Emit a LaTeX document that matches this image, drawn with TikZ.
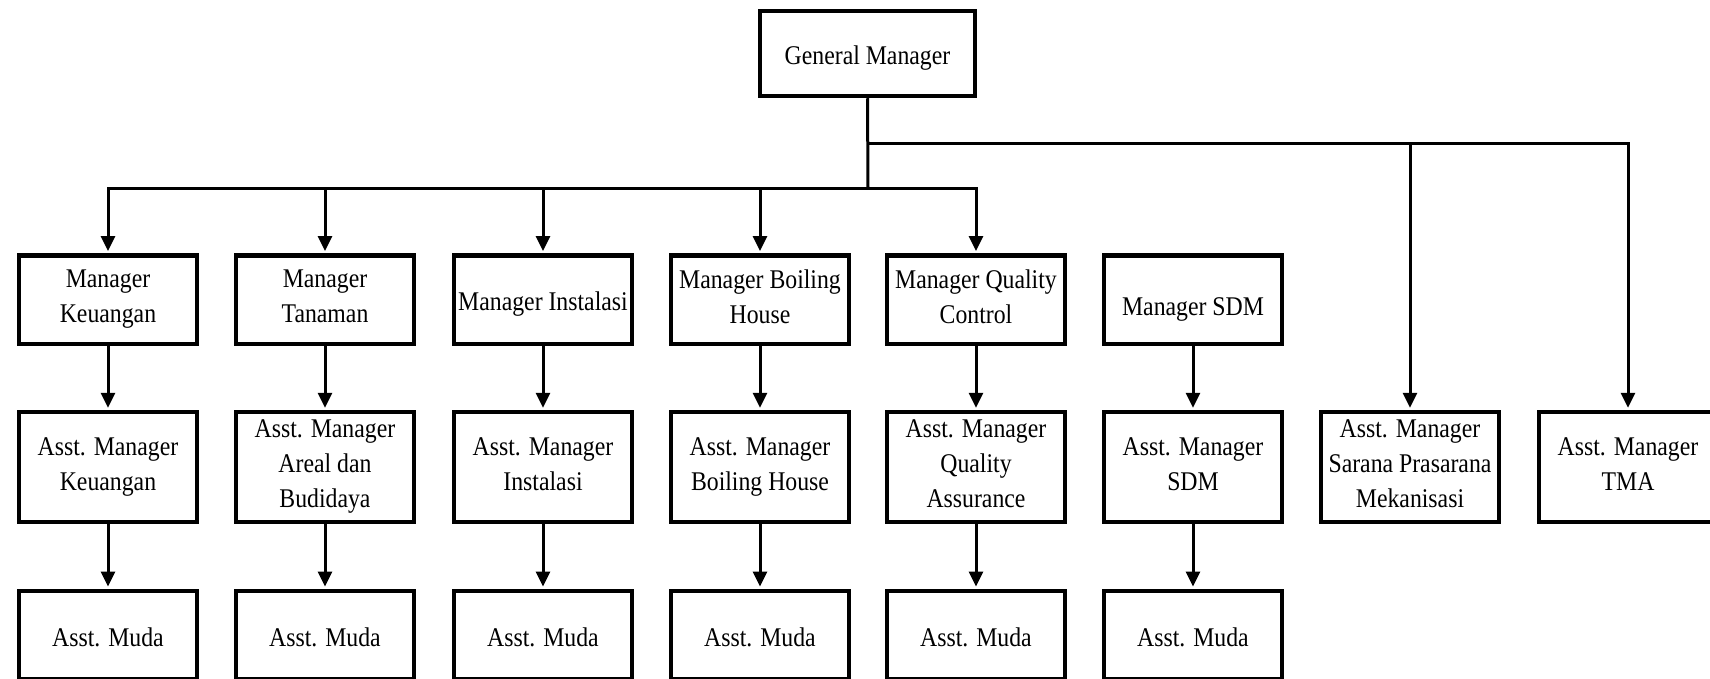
\documentclass[tikz,border=0pt]{standalone}
\usepackage{fontspec}
\setmainfont{Liberation Serif}[FakeStretch=0.88]
\usetikzlibrary{arrows.meta}
\newcommand\boxstrut{\rule[-6pt]{0pt}{34pt}}
\begin{document}
\begin{tikzpicture}[x=1pt,y=-1pt,
  box/.style={draw, line width=4.5pt, minimum width=178pt, inner sep=0pt, align=center,
    font=\fontsize{27}{35}\selectfont, execute at begin node=\boxstrut, execute at end node=\boxstrut},
  rowa/.style={box, minimum height=88.5pt},
  rowb/.style={box, minimum height=110pt},
  link/.style={line width=3pt},
  arr/.style={link, -{Triangle[width=14pt,length=15pt]}, shorten >=2pt}]
\useasboundingbox (0,0) rectangle (1710,679);
\clip (0,0) rectangle (1710,679);
\node[box, minimum width=215pt, minimum height=85pt] (gm) at (867.5,53.5) {General Manager};
% row 1
\node[rowa] (m1) at (108,299.5) {Manager\\Keuangan};
\node[rowa] (m2) at (325,299.5) {Manager\\Tanaman};
\node[rowa] (m3) at (543,299.5) {Manager Instalasi};
\node[rowa] (m4) at (760,299.5) {Manager Boiling\\House};
\node[rowa] (m5) at (976,299.5) {Manager Quality\\Control};
\node[rowa] (m6) at (1193,299.5) {\raisebox{-5pt}[0pt][0pt]{Manager SDM}};
% row 2
\node[rowb] (a1) at (108,467) {Asst. Manager\\Keuangan};
\node[rowb] (a2) at (325,467) {Asst. Manager\\Areal dan\\Budidaya};
\node[rowb] (a3) at (543,467) {Asst. Manager\\Instalasi};
\node[rowb] (a4) at (760,467) {Asst. Manager\\Boiling House};
\node[rowb] (a5) at (976,467) {Asst. Manager\\Quality\\Assurance};
\node[rowb] (a6) at (1193,467) {Asst. Manager\\SDM};
\node[rowb] (a7) at (1410,467) {Asst. Manager\\Sarana Prasarana\\Mekanisasi};
\node[rowb] (a8) at (1628,467) {Asst. Manager\\TMA};
% row 3
\node[rowa] (u1) at (108,635) {Asst. Muda};
\node[rowa] (u2) at (325,635) {Asst. Muda};
\node[rowa] (u3) at (543,635) {Asst. Muda};
\node[rowa] (u4) at (760,635) {Asst. Muda};
\node[rowa] (u5) at (976,635) {Asst. Muda};
\node[rowa] (u6) at (1193,635) {Asst. Muda};
% connectors
\coordinate (j1) at (868,189);
\coordinate (j2) at (868,144);
\draw[link] (gm.south) -- (j1);
\draw[arr] (j2) -| (a8.north);
\draw[arr] (j2) -| (a7.north);
\foreach \i in {1,...,5} { \draw[arr] (j1) -| (m\i.north); }
\foreach \i in {1,...,6} {
  \draw[arr] (m\i) -- (a\i);
  \draw[arr] (a\i) -- (u\i);
}
\end{tikzpicture}
\end{document}
